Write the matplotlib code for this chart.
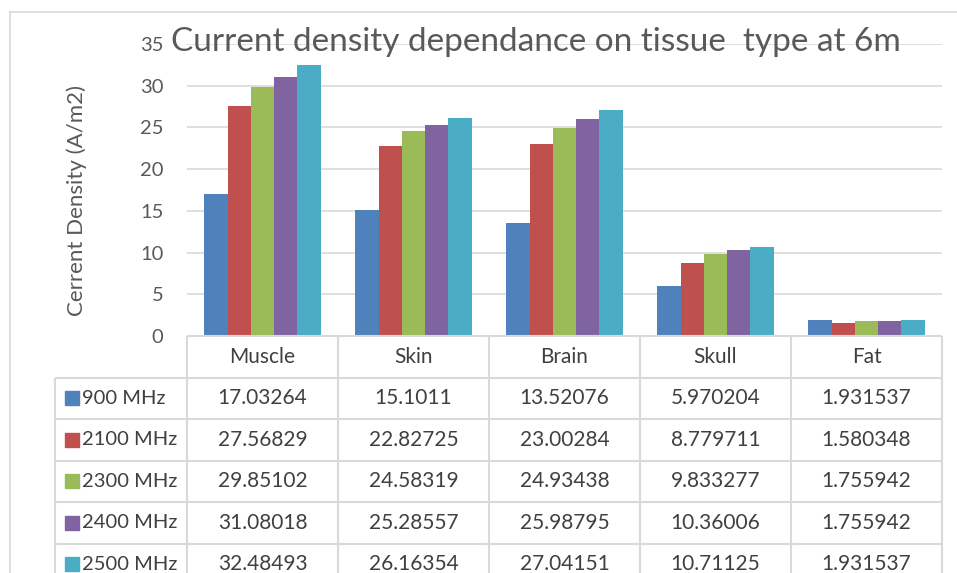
import matplotlib
matplotlib.use("Agg")
import matplotlib.pyplot as plt
from matplotlib.lines import Line2D
import numpy as np

plt.rcParams["font.family"] = ["Lato", "DejaVu Sans"]

tissues = ["Muscle", "Skin", "Brain", "Skull", "Fat"]
freqs = ["900 MHz", "2100 MHz", "2300 MHz", "2400 MHz", "2500 MHz"]
f900 = [17.03264, 15.1011, 13.52076, 5.970204, 1.931537]
f2100 = [27.56829, 22.82725, 23.00284, 8.779711, 1.580348]
f2300 = [29.85102, 24.58319, 24.93438, 9.833277, 1.755942]
f2400 = [31.08018, 25.28557, 25.98795, 10.36006, 1.755942]
f2500 = [32.48493, 26.16354, 27.04151, 10.71125, 1.931537]
series = [f900, f2100, f2300, f2400, f2500]
colors = ["#4F81BD", "#C0504D", "#9BBB59", "#8064A2", "#4BACC6"]

W, H = 957, 573
grid_col = "#d9d9d9"
txt_col = "#595959"
cell_col = "#404040"

fig = plt.figure(figsize=(W / 100, H / 100), dpi=100)

def fx(px):
    return px / W

def fy(py):
    return (H - py) / H

# chart outer border
fig.add_artist(Line2D([fx(10), fx(10)], [0, fy(12)], color=grid_col, lw=1.2, transform=fig.transFigure))
fig.add_artist(Line2D([fx(10), 1], [fy(12), fy(12)], color=grid_col, lw=1.2, transform=fig.transFigure))

# plot area
left, right, top, base = 187, 942, 44, 336
ax = fig.add_axes([fx(left), fy(base), (right - left) / W, (base - top) / H])
ax.set_facecolor("none")
x = np.arange(len(tissues))
w = 0.77 / len(series)
for j, (vals, c) in enumerate(zip(series, colors)):
    ax.bar(x + (j - 2) * w, vals, w, color=c, zorder=3, linewidth=0)
ax.set_xlim(-0.5, len(tissues) - 0.5)
ax.set_ylim(0, 35)
ax.set_yticks(range(0, 36, 5))
ax.set_xticks([])
ax.yaxis.grid(True, color=grid_col, lw=1.2)
ax.set_axisbelow(True)
for s in ax.spines.values():
    s.set_visible(False)
ax.tick_params(axis="y", length=0, pad=17, labelsize=14.5, labelcolor=txt_col)
fig.text(fx(77), fy(200), "Cerrent Density (A/m2)", rotation=90, ha="center", va="center",
         fontsize=16, color=txt_col)

fig.text(fx(536), fy(42), "Current density dependance on tissue  type at 6m",
         ha="center", va="center", fontsize=24, color=txt_col)

# data table under the bars
row_h = 41.5
n_rows = len(freqs) + 1
tleft = 55
cat_w = (right - left) / len(tissues)
lab_w = (left - tleft) / cat_w
axt = fig.add_axes([fx(tleft), fy(base + n_rows * row_h), (right - tleft) / W, n_rows * row_h / H])
axt.set_xlim(-0.5 - lab_w, len(tissues) - 0.5)
axt.set_ylim(n_rows, 0)
axt.axis("off")

x0 = -0.5 - lab_w
axt.hlines(0, -0.5, len(tissues) - 0.5, color=grid_col, lw=1.5, clip_on=False)
axt.hlines(np.arange(1, n_rows + 1), x0, len(tissues) - 0.5, color=grid_col, lw=1.5, clip_on=False)
axt.vlines(x0, 1, n_rows, color=grid_col, lw=1.5, clip_on=False)
axt.vlines(np.arange(len(tissues) + 1) - 0.5, 0, n_rows, color=grid_col, lw=1.5, clip_on=False)

for i, t in enumerate(tissues):
    axt.text(i, 0.5, t, ha="center", va="center", fontsize=15, color=cell_col)

for r, (name, vals, c) in enumerate(zip(freqs, series, colors)):
    yy = r + 1.5
    axt.plot([x0 + 16.5 / cat_w], [yy], marker="s", ms=10, color=c, ls="none", clip_on=False)
    axt.text(x0 + 27 / cat_w, yy, name, ha="left", va="center", fontsize=14.5, color=cell_col)
    for i, v in enumerate(vals):
        axt.text(i, yy, f"{v:.7g}", ha="center", va="center", fontsize=15, color=cell_col)

fig.savefig("out.png", dpi=100)
